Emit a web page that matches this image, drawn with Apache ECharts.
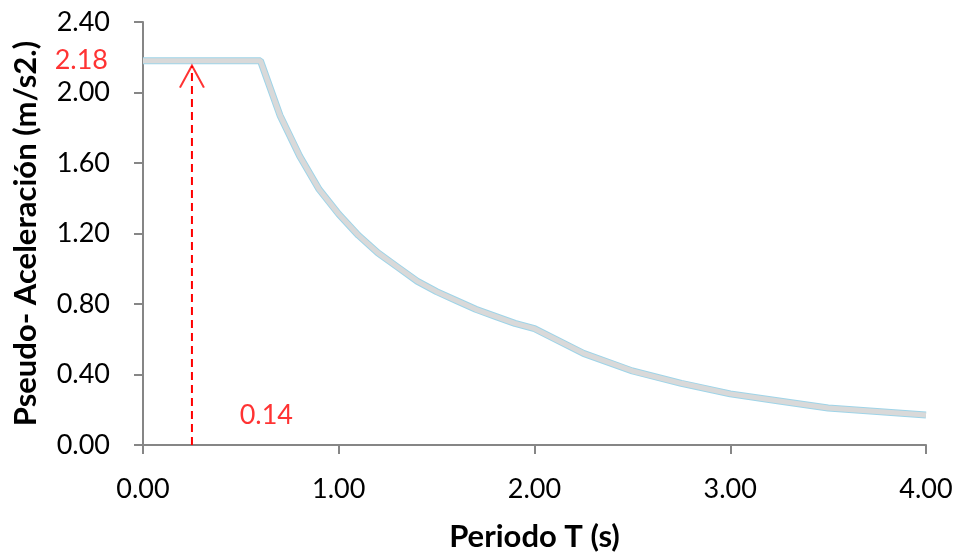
<!DOCTYPE html>
<html>
<head>
<meta charset="utf-8">
<script src="https://cdn.jsdelivr.net/npm/echarts@6/dist/echarts.min.js"></script>
<style>
  html, body { margin: 0; padding: 0; background: #fff; }
  #chart { width: 959px; height: 553px; }
</style>
</head>
<body>
<div id="chart"></div>
<script>
// periodo T (s) y pseudo-aceleracion (m/s2)
var periodos = [0, 0.1, 0.2, 0.3, 0.4, 0.5, 0.6, 0.7, 0.8, 0.9, 1.0, 1.1, 1.2, 1.3, 1.4, 1.5,
                1.6, 1.7, 1.8, 1.9, 2.0, 2.25, 2.5, 2.75, 3.0, 3.25, 3.5, 3.75, 4.0];
var aceleraciones = [2.18, 2.18, 2.18, 2.18, 2.18, 2.18, 2.18, 1.87, 1.64, 1.45, 1.31, 1.19, 1.09, 1.01, 0.93, 0.87,
                     0.82, 0.77, 0.73, 0.69, 0.66, 0.52, 0.42, 0.35, 0.29, 0.25, 0.21, 0.19, 0.17];

// flecha roja (periodo fundamental y aceleracion)
var flechaT = 0.25;
var flechaSa = 2.18;
var etiquetaSa = '2.18';
var etiquetaT = '0.14';

var espectro = periodos.map(function (t, i) {
    return [t, aceleraciones[i]];
});

var chart = echarts.init(document.getElementById('chart'));
var fuente = 'Lato';
var ejeColor = '#868686';

var option = {
    animation: false,
    grid: { left: 143, right: 33, top: 22, bottom: 108, outerBoundsMode: 'none', containLabel: false },
    xAxis: {
        type: 'value',
        min: 0, max: 4, interval: 1,
        name: 'Periodo T (s)',
        nameLocation: 'middle',
        nameGap: 76,
        nameTextStyle: { fontFamily: fuente, fontSize: 31, fontWeight: 'bold', color: '#000' },
        axisLine: { lineStyle: { color: ejeColor, width: 2 } },
        axisTick: { show: true, length: 9, lineStyle: { color: ejeColor, width: 2 } },
        axisLabel: { margin: 31, fontFamily: fuente, fontSize: 27, color: '#000',
            formatter: function (v) { return v.toFixed(2); } },
        splitLine: { show: false }
    },
    yAxis: {
        type: 'value',
        min: 0, max: 2.4, interval: 0.4,
        name: 'Pseudo- Aceleración (m/s2.)',
        nameLocation: 'middle',
        nameGap: 102,
        nameTextStyle: { fontFamily: fuente, fontSize: 31, fontWeight: 'bold', color: '#000' },
        axisLine: { show: true, lineStyle: { color: ejeColor, width: 2 } },
        axisTick: { show: true, length: 9, lineStyle: { color: ejeColor, width: 2 } },
        axisLabel: { margin: 33, fontFamily: fuente, fontSize: 27, color: '#000',
            formatter: function (v) { return v.toFixed(2); } },
        splitLine: { show: false }
    },
    series: [
        {
            // borde azul claro
            type: 'line',
            data: espectro,
            symbol: 'none',
            lineStyle: { color: '#9fd4e8', width: 7 },
            z: 2
        },
        {
            type: 'line',
            data: espectro,
            symbol: 'none',
            lineStyle: { color: '#d9d9d9', width: 5 },
            z: 3
        },
        {
            // linea discontinua roja
            type: 'line',
            data: [[flechaT, 0], [flechaT, flechaSa - 0.03]],
            symbol: 'none',
            lineStyle: { color: '#ff0000', width: 2, type: [8, 5] },
            z: 4
        },
        {
            // punta de flecha abierta
            type: 'scatter',
            data: [[flechaT, flechaSa - 0.09]],
            symbol: 'path://M0,22 L12,0 L24,22',
            symbolSize: [24, 22],
            itemStyle: { color: 'none', borderColor: '#ff0000', borderWidth: 2 },
            z: 5,
            clip: false
        },
        {
            // etiquetas rojas
            type: 'scatter',
            symbolSize: 0,
            clip: false,
            z: 6,
            label: {
                show: true,
                color: '#ff0000',
                fontFamily: fuente,
                fontSize: 27,
                formatter: function (p) { return p.data.texto; }
            },
            data: [
                { value: [0, flechaSa], texto: etiquetaSa, label: { position: 'left', distance: 35 } },
                { value: [0.63, 0.17], texto: etiquetaT, label: { position: 'inside' } }
            ]
        }
    ]
};
chart.setOption(option);
</script>
</body>
</html>
